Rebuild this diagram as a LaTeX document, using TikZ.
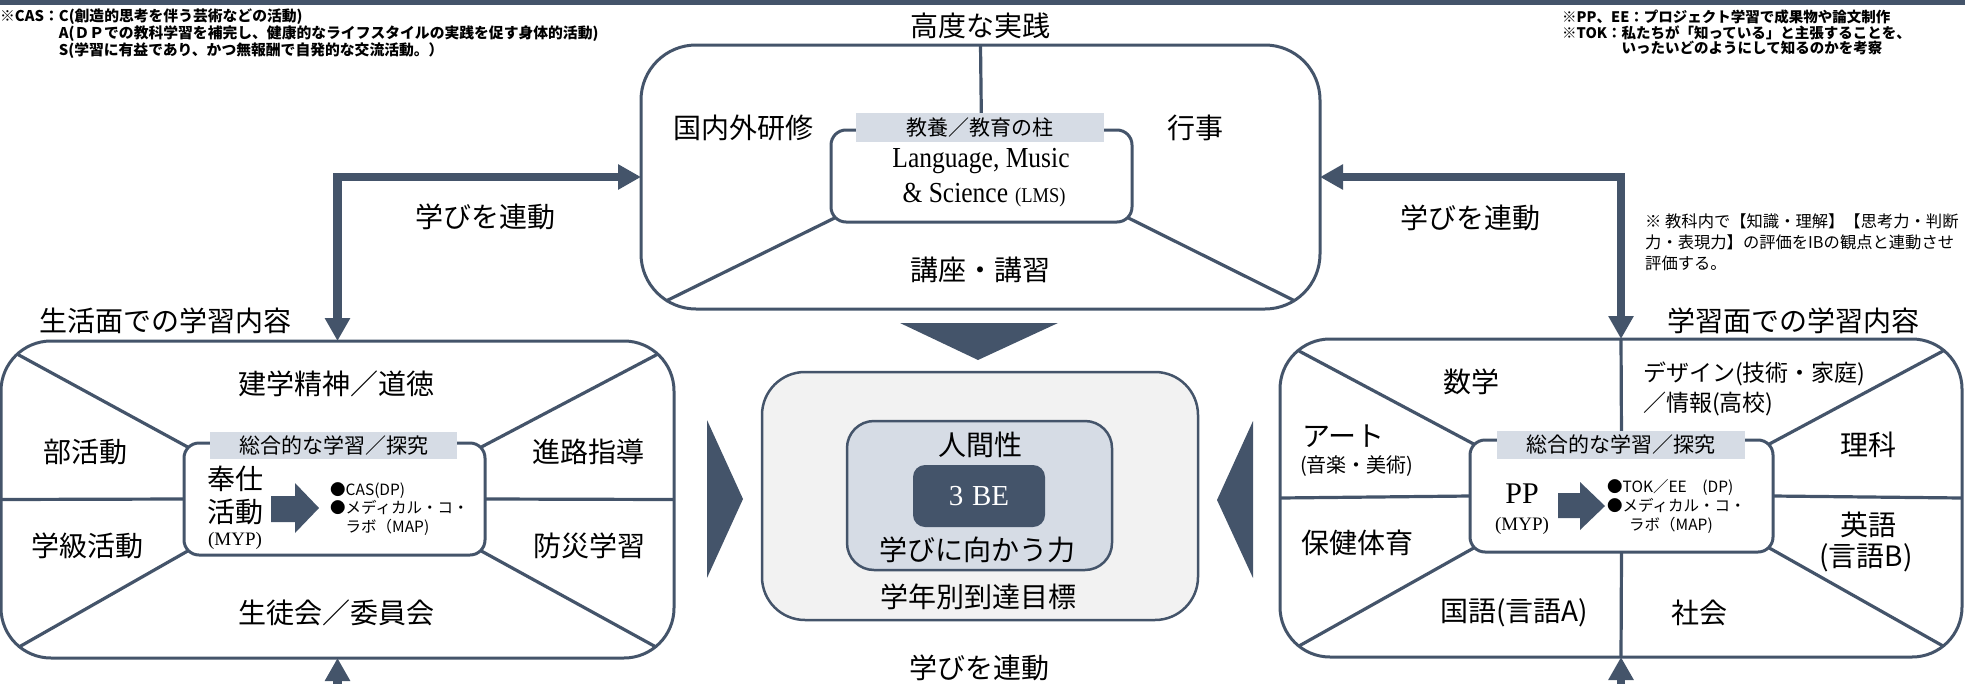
\documentclass[tikz,border=0pt]{standalone}
\usepackage{fontspec}
\setmainfont{Noto Sans CJK JP}
\newfontfamily\lat{Liberation Serif}
\newfontfamily\latn[FakeStretch=0.88]{Liberation Serif}
\usetikzlibrary{arrows.meta,backgrounds,calc}
\definecolor{dark}{HTML}{44546A}
\definecolor{band}{HTML}{D6DCE5}
\definecolor{pale}{HTML}{F2F2F2}
\tikzset{
  frame/.style={draw=dark, line width=3pt, rounded corners=#1, inner sep=0pt, outer sep=0pt},
  divider/.style={draw=dark, line width=3.2pt},
  bandlabel/.style={fill=band, inner sep=0pt, outer sep=0pt, font=\fontsize{21}{21}\selectfont},
  lbl/.style={inner sep=0pt, font=\fontsize{28}{30}\selectfont},
  notes/.style={inner sep=0pt, align=left, anchor=north west},
  linkarrow/.style={draw=dark, line width=8.5pt, {Triangle[length=23pt,width=24pt]}-{Triangle[length=23pt,width=24pt]}},
  uparrow/.style={draw=dark, line width=8.5pt, -{Triangle[length=23pt,width=24pt]}},
  tri/.style={fill=dark}
}
\begin{document}
\begin{tikzpicture}[x=1pt,y=-1pt]
\useasboundingbox (0,0) rectangle (1965,683);
\fill[dark] (0,0) rectangle (1965,5);

% notes
\node[notes, font=\bfseries\fontsize{14.8}{15.6}\selectfont] (n1) at (0,8.7)
 {※CAS：C(創造的思考を伴う芸術などの活動)\\
  \phantom{※CAS：}A(ＤＰでの教科学習を補完し、健康的なライフスタイルの実践を促す身体的活動)\\
  \phantom{※CAS：}S(学習に有益であり、かつ無報酬で自発的な交流活動。）};
\node[notes, font=\bfseries\fontsize{14.5}{15.5}\selectfont] (n2) at (1562,9.8)
 {※PP、EE：プロジェクト学習で成果物や論文制作\\
  ※TOK：私たちが「知っている」と主張することを、\\
  \phantom{※TOK：}いったいどのようにして知るのかを考察};
\node[notes, font=\fontsize{16.3}{21}\selectfont] (n3) at (1645,214)
 {※ 教科内で【知識・理解】【思考力・判断\\
  力・表現力】の評価をIBの観点と連動させ\\
  評価する。};

% top box
\node[lbl] (ttl) at (980,26) {高度な実践};
\node[frame=55pt, minimum width=679pt, minimum height=264pt] (T) at (980.5,177) {};
\node[frame=15pt, fill=white, minimum width=301pt, minimum height=92pt] (Ti) at (981.5,176) {};
\node[bandlabel, minimum width=248pt, minimum height=29pt] (Tb) at (980,127.5) {教養／教育の柱};
\node[inner sep=0pt, font=\latn\fontsize{29}{29}\selectfont] (lms1) at (981,161) {Language, Music};
\node[inner sep=0pt, font=\latn\fontsize{29}{29}\selectfont] (lms2) at (984,195) {\& Science\hspace{7pt}{\fontsize{21}{21}\selectfont (LMS)}};
\node[lbl] (t1) at (743,128) {国内外研修};
\node[lbl] (t2) at (1195,128) {行事};
\node[lbl] (t3) at (980,270) {講座・講習};
\coordinate (Tbl) at (666,301);
\coordinate (Tbr) at (1295,301);

% left box
\node[lbl] (ltitle) at (165,321) {生活面での学習内容};
\node[frame=50pt, minimum width=673pt, minimum height=317pt] (L) at (337.5,499.5) {};
\node[frame=15pt, fill=white, minimum width=301pt, minimum height=112pt] (Li) at (334.5,499) {};
\node[bandlabel, minimum width=247pt, minimum height=27pt] (Lb) at (333.5,445.5) {総合的な学習／探究};
\node[lbl] (l1) at (336,384) {建学精神／道徳};
\node[lbl] (l2) at (85,452) {部活動};
\node[lbl] (l3) at (588,452) {進路指導};
\node[lbl] (l4) at (87,546) {学級活動};
\node[lbl] (l5) at (589,546) {防災学習};
\node[lbl] (l6) at (336,613) {生徒会／委員会};
\node[lbl] (l7) at (235,479) {奉仕};
\node[lbl] (l8) at (235,512) {活動};
\node[inner sep=0pt, font=\lat\fontsize{19}{19}\selectfont] (l9) at (235,541) {(MYP)};
\node[notes, font=\fontsize{15.5}{18.5}\selectfont] (lbul) at (330,482)
 {●CAS(DP)\\●メディカル・コ・\\\phantom{●}ラボ（MAP)};
\fill[dark] (271,496) -- (295,496) -- (295,483) -- (319,508) -- (295,533) -- (295,522) -- (271,522) -- cycle;
\coordinate (Ltl) at (17,354);
\coordinate (Ltr) at (658,354);
\coordinate (Lbl) at (19,647);
\coordinate (Lbr) at (656,647);

% right box
\node[lbl] (rtitle) at (1793,321) {学習面での学習内容};
\node[frame=50pt, minimum width=682pt, minimum height=318pt] (R) at (1621,498) {};
\node[frame=15pt, fill=white, minimum width=303pt, minimum height=112pt] (Ri) at (1621.5,496) {};
\node[bandlabel, minimum width=248pt, minimum height=28pt] (Rb) at (1621,445) {総合的な学習／探究};
\node[lbl] (r1) at (1471,382) {数学};
\node[notes, font=\fontsize{23}{30}\selectfont] (r2) at (1643,362) {デザイン(技術・家庭)\\／情報(高校)};
\node[lbl, anchor=west] (r3) at (1302,436) {アート};
\node[inner sep=0pt, anchor=west, font=\fontsize{20}{20}\selectfont] (r4) at (1300,466) {(音楽・美術)};
\node[lbl] (r5) at (1868,445) {理科};
\node[lbl] (r6) at (1868,525) {英語};
\node[lbl] (r7) at (1866,558) {(言語B)};
\node[lbl] (r8) at (1357,543) {保健体育};
\node[lbl] (r9) at (1514,613) {国語(言語A)};
\node[lbl] (r10) at (1699,613) {社会};
\node[inner sep=0pt, font=\lat\fontsize{30}{30}\selectfont] (r11) at (1522,494) {PP};
\node[inner sep=0pt, font=\lat\fontsize{19}{19}\selectfont] (r12) at (1522,526) {(MYP)};
\node[notes, font=\fontsize{15.5}{19}\selectfont] (rbul) at (1607,479)
 {●TOK／EE　(DP)\\●メディカル・コ・\\\hspace*{22pt}ラボ（MAP)};
\fill[dark] (1558,493) -- (1580,493) -- (1580,482) -- (1605,506) -- (1580,530) -- (1580,518) -- (1558,518) -- cycle;
\coordinate (Rtl) at (1299,351);
\coordinate (Rtr) at (1943,351);
\coordinate (Rbl) at (1299,646);
\coordinate (Rbr) at (1943,646);

% center
\node[frame=43pt, line width=2.5pt, fill=pale, minimum width=436pt, minimum height=248pt] (C) at (980,496) {};
\node[frame=27pt, line width=2.5pt, fill=band, minimum width=265pt, minimum height=149pt] (Ci) at (979.5,495.5) {};
\node[frame=12pt, draw=none, fill=dark, minimum width=132pt, minimum height=62pt, text=white, font=\lat\fontsize{29}{29}\selectfont] (be) at (979,496) {3\hspace{0.3em}BE};
\node[lbl] (c1) at (980,445) {人間性};
\node[lbl] (c2) at (977,550) {学びに向かう力};
\node[lbl] (c3) at (978,597) {学年別到達目標};
\node[lbl] (c4) at (979,668) {学びを連動};
\node[lbl] (a1) at (485,217) {学びを連動};
\node[lbl] (a2) at (1470,218) {学びを連動};

% triangles
\fill[tri] (900,323) -- (1058,323) -- (978,360) -- cycle;
\fill[tri] (707,420) -- (707,578) -- (743,499) -- cycle;
\fill[tri] (1253,421) -- (1253,578) -- (1217,500) -- cycle;

% dividers
\begin{scope}[on background layer]
 \draw[divider] (T.north) -- (Ti.north);
 \draw[divider] ($(Ti.south west)+(4.4,-4.4)$) -- (Tbl);
 \draw[divider] ($(Ti.south east)+(-4.4,-4.4)$) -- (Tbr);
 \draw[divider] ($(Li.north west)+(4.4,4.4)$) -- (Ltl);
 \draw[divider] ($(Li.north east)+(-4.4,4.4)$) -- (Ltr);
 \draw[divider] ($(Li.south west)+(4.4,-4.4)$) -- (Lbl);
 \draw[divider] ($(Li.south east)+(-4.4,-4.4)$) -- (Lbr);
 \draw[divider] (L.west) -- (Li.west);
 \draw[divider] (Li.east) -- (L.east);
 \draw[divider] ($(Ri.north west)+(4.4,4.4)$) -- (Rtl);
 \draw[divider] ($(Ri.north east)+(-4.4,4.4)$) -- (Rtr);
 \draw[divider] ($(Ri.south west)+(4.4,-4.4)$) -- (Rbl);
 \draw[divider] ($(Ri.south east)+(-4.4,-4.4)$) -- (Rbr);
 \draw[divider] (R.west) -- (Ri.west);
 \draw[divider] (Ri.east) -- (R.east);
 \draw[divider] (R.north) -- (Ri.north);
 \draw[divider] (Ri.south) -- (R.south);
\end{scope}

% link arrows
\draw[linkarrow] (T.west) -| (L.north);
\draw[linkarrow] (T.east) -| (R.north);
\coordinate (Lfoot) at (337.5,700);
\coordinate (Rfoot) at (1621,700);
\draw[uparrow] (Lfoot) -- (L.south);
\draw[uparrow] (Rfoot) -- (R.south);
\end{tikzpicture}
\end{document}
